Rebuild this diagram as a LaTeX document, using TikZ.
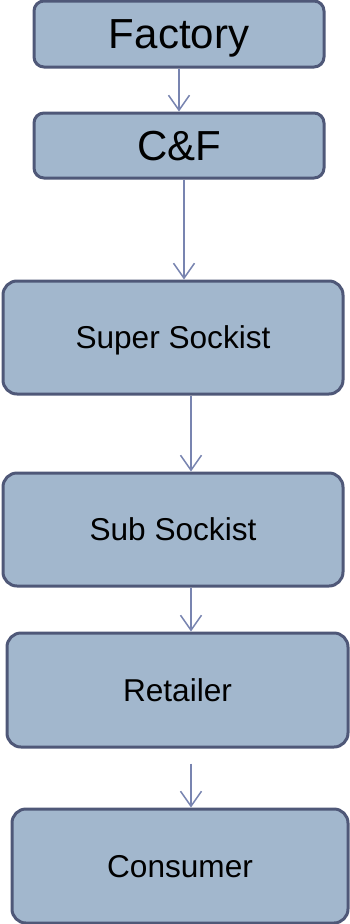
\documentclass[tikz,border=0pt]{standalone}
\usepackage{fontspec}
\setmainfont{Liberation Sans}
\usetikzlibrary{arrows.meta}

\definecolor{boxfill}{HTML}{A2B7CD}
\definecolor{boxline}{HTML}{4F5878}
\definecolor{flowline}{HTML}{7884B0}

\tikzset{
    chainbox/.style={draw=boxline, fill=boxfill, line width=3pt, rounded corners=14pt,
        rectangle, inner sep=0pt, text depth=0pt, font=\fontsize{31.6}{36}\selectfont},
    bigbox/.style={chainbox, rounded corners=10pt, font=\fontsize{42}{48}\selectfont},
    flow/.style={draw=flowline, line width=1.5pt,
        -{Straight Barb[length=15pt,width=21pt,line width=1.5pt]}}
}

\begin{document}
\begin{tikzpicture}[x=1pt, y=-1pt]

\useasboundingbox (0,0) rectangle (349,924);

\node[bigbox, minimum width=290pt, minimum height=66pt] (factory) at (179, 34) {Factory};
\node[bigbox, minimum width=290pt, minimum height=65pt] (cf) at (179, 145.5) {C\&F};

\node[chainbox, minimum width=340pt, minimum height=113pt] (super) at (173, 337.5) {Super Sockist};
\node[chainbox, minimum width=340pt, minimum height=113pt] (sub) at (173, 529.5) {Sub Sockist};
\node[chainbox, minimum width=341pt, minimum height=114pt] (retailer) at (177.5, 690) {Retailer};
\node[chainbox, minimum width=336pt, minimum height=114pt] (consumer) at (180, 866) {Consumer};

\draw[flow] (factory.south) -- (cf.north);
\draw[flow] ([xshift=5pt]cf.south) -- ([xshift=11pt]super.north);
\draw[flow] ([xshift=18pt]super.south) -- ([xshift=18pt]sub.north);
\draw[flow] ([xshift=18pt]sub.south) -- ([xshift=13.5pt]retailer.north);
\draw[flow, shorten <=15pt] ([xshift=13.5pt]retailer.south) -- ([xshift=11pt]consumer.north);

\end{tikzpicture}
\end{document}
